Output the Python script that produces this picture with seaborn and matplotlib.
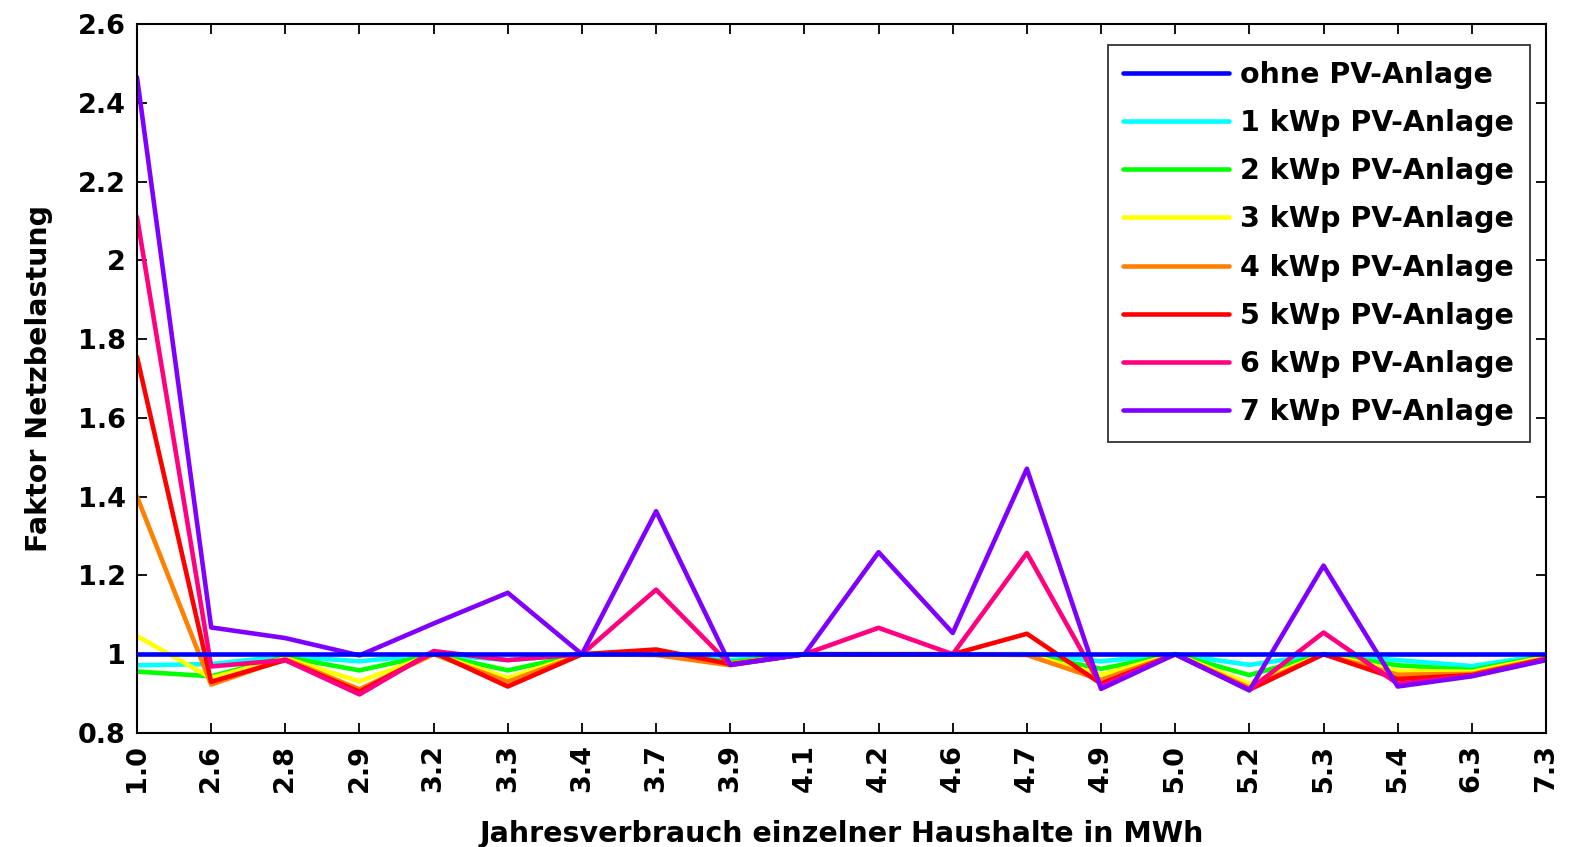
import matplotlib
matplotlib.use("Agg")
import matplotlib.pyplot as plt
import seaborn as sns
import pandas as pd

categories = ["1.0", "2.6", "2.8", "2.9", "3.2", "3.3", "3.4", "3.7", "3.9", "4.1",
              "4.2", "4.6", "4.7", "4.9", "5.0", "5.2", "5.3", "5.4", "6.3", "7.3"]

ohne_pv = [1.0, 1.0, 1.0, 1.0, 1.0, 1.0, 1.0, 1.0, 1.0, 1.0,
           1.0, 1.0, 1.0, 1.0, 1.0, 1.0, 1.0, 1.0, 1.0, 1.0]
kwp1 = [0.972, 0.975, 0.995, 0.982, 1.0, 0.985, 1.0, 1.0, 0.985, 1.0,
        1.0, 1.0, 1.0, 0.982, 1.0, 0.973, 1.0, 0.985, 0.97, 0.998]
kwp2 = [0.956, 0.944, 0.993, 0.959, 1.0, 0.959, 1.0, 1.0, 0.98, 1.0,
        1.0, 1.0, 1.0, 0.963, 1.0, 0.947, 1.0, 0.972, 0.96, 0.995]
kwp3 = [1.046, 0.94, 0.99, 0.931, 1.0, 0.94, 1.0, 1.0, 0.976, 1.0,
        1.0, 1.0, 1.0, 0.948, 1.0, 0.925, 1.0, 0.958, 0.955, 0.993]
kwp4 = [1.40, 0.923, 0.988, 0.911, 1.0, 0.93, 1.0, 0.998, 0.972, 1.0,
        1.0, 1.0, 0.998, 0.935, 1.0, 0.915, 1.0, 0.948, 0.95, 0.99]
kwp5 = [1.755, 0.93, 0.985, 0.905, 1.005, 0.918, 1.0, 1.012, 0.975, 1.0,
        1.0, 1.0, 1.052, 0.925, 1.0, 0.91, 1.0, 0.937, 0.947, 0.988]
kwp6 = [2.11, 0.969, 0.985, 0.898, 1.008, 0.985, 1.0, 1.164, 0.973, 1.0,
        1.067, 1.0, 1.257, 0.92, 1.0, 0.91, 1.055, 0.925, 0.945, 0.986]
kwp7 = [2.465, 1.068, 1.041, 0.997, 1.078, 1.156, 1.0, 1.363, 0.973, 1.0,
        1.259, 1.054, 1.471, 0.912, 1.0, 0.908, 1.225, 0.918, 0.944, 0.985]

series_names = ["ohne PV-Anlage", "1 kWp PV-Anlage", "2 kWp PV-Anlage", "3 kWp PV-Anlage",
                "4 kWp PV-Anlage", "5 kWp PV-Anlage", "6 kWp PV-Anlage", "7 kWp PV-Anlage"]
series_values = [ohne_pv, kwp1, kwp2, kwp3, kwp4, kwp5, kwp6, kwp7]
colors = ["#0000FF", "#00FFFF", "#00FF00", "#FFFF00", "#FF8000", "#FF0000", "#FF0080", "#8000FF"]

y_ticks = [0.8, 1.0, 1.2, 1.4, 1.6, 1.8, 2.0, 2.2, 2.4, 2.6]
y_ticklabels = ["0.8", "1", "1.2", "1.4", "1.6", "1.8", "2", "2.2", "2.4", "2.6"]

rows = []
for name, vals in zip(series_names, series_values):
    for i, v in enumerate(vals):
        rows.append({"idx": i, "value": v, "series": name})
df = pd.DataFrame(rows)

sns.set_theme(style="white")
plt.rcParams["font.family"] = ["DejaVu Sans"]
plt.rcParams["font.weight"] = "bold"

FS = 19.5
LFS = 20.5

fig = plt.figure(figsize=(15.69, 8.47), dpi=100)
ax = fig.add_axes([137 / 1569, 1 - 733 / 847, (1546 - 137) / 1569, (733 - 24) / 847])

sns.lineplot(data=df, x="idx", y="value", hue="series", hue_order=series_names,
             palette=colors, linewidth=3.3, ax=ax, legend=True)

lines = ax.get_lines()
if lines:
    lines[0].set_zorder(5)

ax.set_xlim(0, len(categories) - 1)
ax.set_ylim(0.8, 2.6)
ax.set_xticks(range(len(categories)))
ax.set_xticklabels(categories, rotation=90, fontsize=FS, fontweight="bold", color="black")
ax.set_yticks(y_ticks)
ax.set_yticklabels(y_ticklabels, fontsize=FS, fontweight="bold", color="black")
ax.tick_params(direction="in", length=7, width=1.3, top=True, right=True,
               bottom=True, left=True, colors="black", pad=8)
for s in ax.spines.values():
    s.set_color("black")
    s.set_linewidth(1.5)

ax.set_xlabel("Jahresverbrauch einzelner Haushalte in MWh", fontsize=LFS, fontweight="bold",
              color="black", labelpad=20)
ax.set_ylabel("Faktor Netzbelastung", fontsize=LFS, fontweight="bold", color="black", labelpad=18)

leg = ax.legend(loc="upper right", bbox_to_anchor=((1530 - 137) / 1409, (733 - 45) / 709),
                fontsize=LFS, frameon=True, fancybox=False, edgecolor="black",
                handlelength=3.7, labelspacing=0.71, borderpad=0.55, handletextpad=0.42,
                borderaxespad=0.0)
leg.get_frame().set_linewidth(1.3)
for t in leg.get_texts():
    t.set_fontweight("bold")
    t.set_color("black")
for h in leg.get_lines():
    h.set_linewidth(3.3)

fig.savefig("out.png", dpi=100, facecolor="white")
